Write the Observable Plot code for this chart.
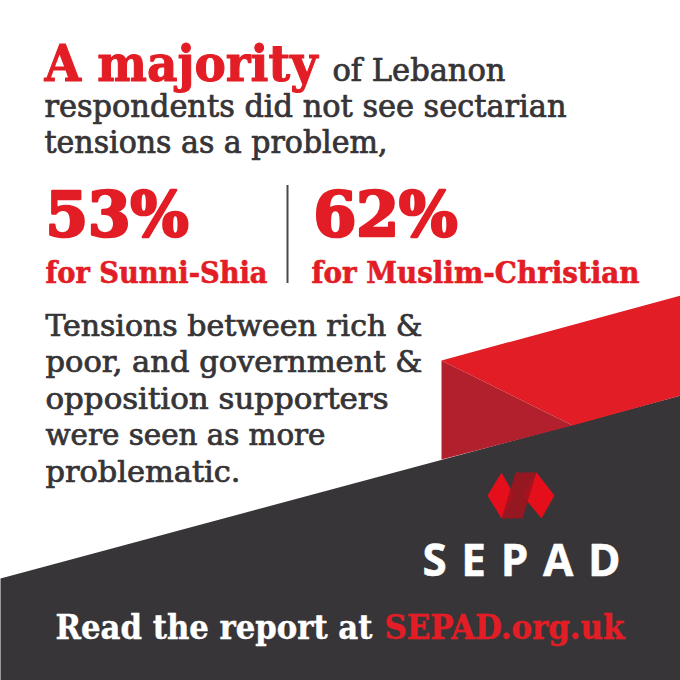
<!DOCTYPE html>
<html>
<head>
<meta charset="utf-8">
<script src="https://cdn.jsdelivr.net/npm/d3@7"></script>
<script src="https://cdn.jsdelivr.net/npm/@observablehq/plot@0.6"></script>
<style>
  html, body { margin: 0; padding: 0; background: #ffffff; }
  #chart svg { display: block; }
</style>
</head>
<body>
<div id="chart"></div>
<script>
// ---------- content ----------
const titleLead = "A majority";
const titleRest = ["of Lebanon", "respondents did not see sectarian", "tensions as a problem,"];
const stats = [53, 62];
const statGroups = ["Sunni-Shia", "Muslim-Christian"];
const bodyLines = ["Tensions between rich &", "poor, and government &", "opposition supporters", "were seen as more", "problematic."];
const brand = "SEPAD";
const ctaText = "Read the report at";
const ctaLink = "SEPAD.org.uk";

// ---------- decorative geometry (canvas units 0..680) ----------
const darkBand = [[0, 578], [680, 395], [680, 680], [0, 680]];
const redBand = [[441, 360], [680, 295], [680, 395], [572, 425]];
const redShade = [[441, 360], [572, 425], [441, 459]];
const logoLeft = [[487, 495], [501, 472], [514, 495], [501, 518]];
const logoRight = [[522, 495], [536, 472], [554, 495], [541, 518]];
const logoMid = [[501, 518], [522, 518], [536, 472], [515, 472]];

// ---------- palette ----------
const RED = "#e31d25", DARKRED = "#b2202e", INK = "#363436", BG = "#373537";
const SERIF = "'DejaVu Serif Condensed', 'DejaVu Serif', serif";

// ---------- layout of text lines ----------
const lines = [
  {t: titleLead, x: 44, y: 80, size: 50, weight: "bold", fill: RED, w: 273, sw: 1},
  {t: titleRest[0], x: 332, y: 80, size: 31, weight: "normal", fill: INK, w: 173, sw: 0.7},
  {t: titleRest[1], x: 44, y: 116, size: 31, weight: "normal", fill: INK, w: 522, sw: 0.7},
  {t: titleRest[2], x: 44, y: 152, size: 31, weight: "normal", fill: INK, w: 343, sw: 0.7},
  {t: stats[0] + "%", x: 45, y: 235, size: 62, weight: "bold", fill: RED, w: 143, sw: 2.6},
  {t: stats[1] + "%", x: 313, y: 235, size: 62, weight: "bold", fill: RED, w: 144, sw: 2.6},
  {t: "for " + statGroups[0], x: 45, y: 282, size: 30, weight: "bold", fill: RED, w: 222, sw: 0.6},
  {t: "for " + statGroups[1], x: 311, y: 282, size: 30, weight: "bold", fill: RED, w: 328, sw: 0.6},
  ...bodyLines.map((t, i) => ({t, x: 45, y: 335 + i * 36.5, size: 29, weight: "normal", fill: INK,
    w: [377, 377, 343, 280, 195][i], sw: 0.7})),
  {t: ctaText, x: 55, y: 638, size: 33, weight: "bold", fill: "#ffffff", w: 317, sw: 0.4},
  {t: ctaLink, x: 384, y: 638, size: 33, weight: "bold", fill: RED, w: 240, sw: 0.4}
];

const poly = (pts, fill, opacity = 1) =>
  Plot.line(pts, {x: d => d[0], y: d => d[1], fill, fillOpacity: opacity, stroke: "none", curve: "linear-closed"});

const textMarks = lines.map(d =>
  Plot.text([d], {x: "x", y: "y", text: "t", textAnchor: "start", lineAnchor: "bottom",
    fontSize: d.size, fontWeight: d.weight, fontFamily: SERIF, fill: d.fill,
    stroke: d.fill, strokeWidth: d.sw, strokeLinejoin: "round"})
);

const chart = Plot.plot({
  width: 680,
  height: 680,
  margin: 0,
  style: {background: "#ffffff", overflow: "visible"},
  x: {domain: [0, 680], range: [0, 680], axis: null},
  y: {domain: [0, 680], range: [0, 680], axis: null},
  marks: [
    poly(darkBand, BG),
    poly(redBand, RED),
    poly(redShade, DARKRED),
    Plot.ruleX([287], {y1: 185, y2: 283, stroke: "#4a4a4a", strokeWidth: 2}),
    ...textMarks,
    Plot.text([brand], {x: 422, y: 575, text: d => d, textAnchor: "start", lineAnchor: "bottom",
      fontSize: 44, fontWeight: "bold", fontFamily: "'Open Sans', Lato, sans-serif", fill: "#ffffff",
      stroke: "#ffffff", strokeWidth: 0.5, strokeLinejoin: "round"}),
    poly(logoLeft, "#e50f1b"),
    poly(logoRight, "#e50f1b"),
    poly(logoMid, "#9e1420", 0.9)
  ]
});

document.getElementById("chart").appendChild(chart);

// fit each line to the measured width of the reference
const widthByText = new Map(lines.map(d => [d.t, d.w]));
d3.select(chart).selectAll("text").each(function () {
  const t = this.textContent;
  if (widthByText.has(t)) {
    this.setAttribute("textLength", widthByText.get(t));
    this.setAttribute("lengthAdjust", "spacingAndGlyphs");
  } else if (t === brand) {
    this.setAttribute("textLength", 198);
    this.setAttribute("lengthAdjust", "spacing");
  }
});
</script>
</body>
</html>
